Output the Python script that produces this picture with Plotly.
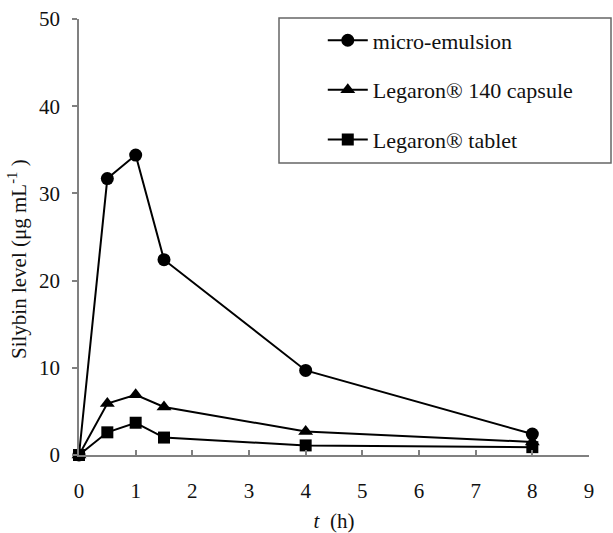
import plotly.graph_objects as go

t_hours = [0, 0.5, 1, 1.5, 4, 8]
micro_emulsion = [0, 31.7, 34.4, 22.4, 9.7, 2.4]
capsule_140 = [0, 5.9, 6.9, 5.5, 2.7, 1.5]
tablet = [0, 2.6, 3.7, 2.0, 1.1, 0.9]

series = [
    ("micro-emulsion", micro_emulsion, "circle"),
    ("Legaron® 140 capsule", capsule_140, "triangle-up"),
    ("Legaron® tablet", tablet, "square"),
]

FONT = "Liberation Serif"
fig = go.Figure()
for i, (name, vals, sym) in enumerate(series):
    fig.add_trace(go.Scatter(
        x=t_hours, y=vals, name=name, mode="lines+markers",
        line=dict(color="black", width=2),
        marker=dict(symbol=sym, size=13 if sym != "square" else 12, color="black"),
        cliponaxis=False, legendgroup=f"g{i}",
    ))

fig.update_layout(
    width=613, height=533,
    margin=dict(l=79, r=24, t=19, b=78, autoexpand=False),
    paper_bgcolor="white", plot_bgcolor="white",
    font=dict(family=FONT, size=21, color="#111"),
    showlegend=True,
    legend=dict(
        x=0.478, y=0.999, xanchor="left", yanchor="top",
        bgcolor="rgba(0,0,0,0)", borderwidth=0,
        font=dict(family=FONT, size=22, color="#111"),
        traceorder="grouped", tracegroupgap=18,
        itemwidth=40,
    ),
    shapes=[dict(
        type="rect", xref="paper", yref="paper",
        x0=(279 - 79) / 510, x1=(611 - 79) / 510,
        y0=(455 - 163) / 436, y1=(455 - 18) / 436,
        line=dict(color="#666", width=1.5), fillcolor="rgba(0,0,0,0)", layer="below",
    )],
    annotations=[dict(
        text="Silybin level (μg mL<sup>-1</sup> )", textangle=-90,
        xref="paper", yref="paper", x=(17 - 79) / 510, y=(455 - 259) / 436,
        xanchor="center", yanchor="middle", showarrow=False,
        font=dict(family=FONT, size=21, color="#111"),
    )],
)

fig.update_xaxes(
    range=[0, 9], tickvals=list(range(10)), showgrid=False, zeroline=False,
    showline=True, linecolor="#808080", linewidth=1.5,
    ticks="inside", ticklen=5, tickcolor="#808080", tickwidth=1.5,
    ticklabelstandoff=16, automargin=False,
    title=dict(text="<i>t</i>  (h)", font=dict(family=FONT, size=21), standoff=16),
)
fig.update_yaxes(
    range=[0, 50], tickvals=[0, 10, 20, 30, 40, 50], showgrid=False, zeroline=False,
    showline=True, linecolor="#808080", linewidth=1.5,
    ticks="outside", ticklen=5, tickcolor="#808080", tickwidth=1.5,
    ticklabelstandoff=8, automargin=False,
)

fig.write_html("out.html")
